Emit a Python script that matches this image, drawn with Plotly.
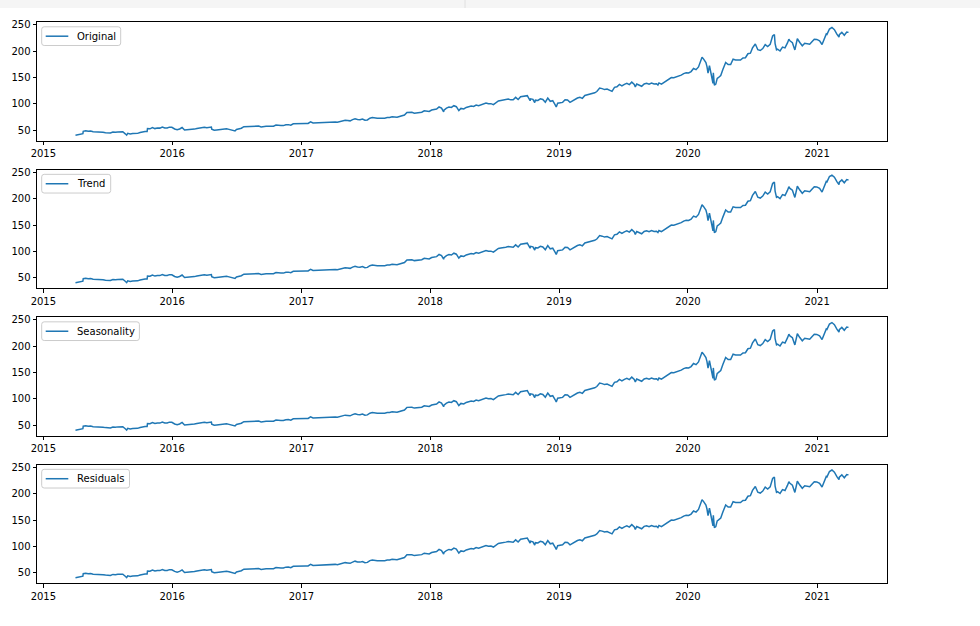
import plotly.graph_objects as go

# ---- data, weekly-ish samples ----
d2015 = ["04-02","04-10","04-17","04-23","04-24","05-01","05-08","05-15","05-22","05-29",
         "06-05","06-12","06-19","06-26","07-02","07-10","07-17","07-24","07-31","08-07",
         "08-14","08-21","08-25","08-28","09-04","09-11","09-18","09-25","10-02","10-09",
         "10-16","10-22","10-23","10-30","11-06","11-13","11-20","11-27","12-04","12-11",
         "12-18","12-24","12-31"]
v2015 = [40.3,41.7,41.6,43.3,47.9,48.7,47.8,48.3,46.9,46.9,
         46.1,45.9,46.1,45.3,44.4,44.6,46.6,45.9,46.7,46.7,
         47.0,43.1,40.5,43.9,42.6,43.5,43.5,43.9,45.6,47.1,
         47.5,47.5,52.9,52.6,54.9,53.0,54.2,53.9,56.0,54.1,
         54.1,55.7,55.5]
d2016 = ["01-08","01-15","01-22","01-29","02-05","02-12","02-19","02-26","03-04","03-11",
         "03-18","03-24","04-01","04-08","04-15","04-21","04-22","04-29","05-06","05-13",
         "05-20","05-27","06-03","06-10","06-17","06-24","06-27","07-01","07-08","07-15",
         "07-22","07-29","08-05","08-12","08-19","08-26","09-02","09-09","09-16","09-23",
         "09-30","10-07","10-14","10-21","10-28","11-04","11-11","11-18","11-25","12-02",
         "12-09","12-16","12-23","12-30"]
v2016 = [52.3,51.0,52.3,55.1,50.2,50.5,51.8,51.3,52.0,53.1,
         53.5,54.2,55.6,54.4,55.6,55.8,51.8,49.9,50.4,51.1,
         50.6,52.3,52.5,51.5,50.1,49.8,48.4,51.2,52.3,53.7,
         56.6,56.7,58.0,57.9,57.6,58.0,57.7,56.2,57.2,57.4,
         57.6,57.8,57.4,59.7,59.9,58.7,58.7,60.4,60.5,59.3,
         62.0,62.3,63.2,62.1]
d2017 = ["01-06","01-13","01-20","01-27","02-03","02-10","02-17","02-24","03-03","03-10",
         "03-17","03-24","03-31","04-07","04-13","04-21","04-28","05-05","05-12","05-19",
         "05-26","06-02","06-09","06-16","06-23","06-30","07-07","07-14","07-21","07-28",
         "08-04","08-11","08-18","08-25","09-01","09-08","09-15","09-22","09-29","10-06",
         "10-13","10-20","10-27","11-03","11-10","11-17","11-24","12-01","12-08","12-15",
         "12-22","12-29"]
v2017 = [62.8,62.7,62.7,65.8,63.7,64.0,64.6,64.6,64.3,64.9,
         64.9,65.0,65.9,65.7,65.0,66.4,68.5,69.0,68.4,67.7,
         70.0,71.8,70.3,70.0,71.2,68.9,69.5,72.8,74.0,73.0,
         72.7,72.5,72.5,72.8,74.0,73.9,75.3,74.4,74.5,76.0,
         77.5,78.8,83.8,84.1,84.0,82.4,83.3,84.3,84.2,86.9,
         85.5,85.5]
d2018 = ["01-05","01-12","01-19","01-26","02-02","02-08","02-09","02-16","02-23","03-02",
         "03-09","03-16","03-23","03-29","04-06","04-13","04-20","04-27","05-04","05-11",
         "05-18","05-25","06-01","06-08","06-15","06-22","06-29","07-06","07-13","07-20",
         "07-27","08-03","08-10","08-17","08-24","08-31","09-07","09-14","09-21","09-28",
         "10-03","10-11","10-12","10-19","10-24","10-26","11-02","11-09","11-16","11-23",
         "11-30","12-07","12-14","12-21","12-24","12-28"]
v2018 = [88.2,89.6,90.0,94.1,91.8,85.0,88.2,92.0,94.1,93.1,
         96.5,94.6,87.2,91.3,90.2,93.1,95.0,95.8,95.0,97.7,
         96.4,98.4,100.8,101.6,100.1,100.4,98.6,101.2,105.4,106.3,
         107.7,108.0,109.0,107.6,107.7,112.3,108.2,113.4,114.3,114.4,
         115.6,105.9,109.6,108.5,102.3,107.0,106.5,109.6,108.3,103.1,
         110.9,104.8,106.0,98.2,94.1,101.2]
d2019 = ["01-04","01-11","01-18","01-25","02-01","02-08","02-15","02-22","03-01","03-08",
         "03-15","03-22","03-29","04-05","04-12","04-18","04-26","05-03","05-10","05-17",
         "05-24","05-31","06-07","06-14","06-21","06-28","07-05","07-12","07-19","07-26",
         "08-02","08-05","08-09","08-16","08-23","08-30","09-06","09-13","09-20","09-27",
         "10-04","10-08","10-11","10-18","10-25","11-01","11-08","11-15","11-22","11-29",
         "12-06","12-13","12-20","12-27"]
v2019 = [101.9,102.8,107.7,107.2,102.8,105.7,108.2,111.0,112.5,110.5,
         115.9,117.1,117.9,119.9,121.0,123.4,129.9,128.9,127.1,128.1,
         126.2,123.7,131.4,132.5,137.0,134.0,137.1,138.9,136.6,141.3,
         136.9,132.2,137.7,136.1,133.4,137.9,139.1,137.3,139.4,137.7,
         138.1,135.7,139.7,137.4,140.7,143.7,146.0,150.0,149.6,151.4,
         151.8,154.5,157.4,159.0]
d2020 = ["01-03","01-10","01-17","01-24","01-31","02-07","02-10","02-14","02-21","02-24",
         "02-27","03-02","03-06","03-09","03-12","03-13","03-16","03-20","03-24","03-27",
         "04-03","04-09","04-17","04-24","05-01","05-08","05-15","05-22","05-29","06-05",
         "06-12","06-19","06-26","07-02","07-10","07-17","07-24","07-31","08-07","08-14",
         "08-21","08-28","09-02","09-04","09-08","09-11","09-18","09-25","10-02","10-09",
         "10-13","10-16","10-23","10-30","11-06","11-13","11-20","11-27","12-04","12-11",
         "12-18","12-24","12-31"]
v2020 = [158.6,161.3,167.1,165.0,170.2,183.9,188.7,185.4,178.6,170.9,
         158.2,172.8,161.6,150.6,139.1,158.8,135.4,137.4,148.3,149.7,
         153.8,165.1,178.6,174.6,174.6,184.7,183.2,183.5,183.3,187.2,
         187.7,195.2,196.3,206.3,213.7,202.9,201.3,205.0,212.5,208.9,
         213.0,228.9,231.7,214.3,202.7,204.0,200.4,207.8,206.2,215.8,
         222.9,219.7,216.2,202.5,223.7,216.5,210.4,215.2,214.4,213.3,
         218.6,222.8,222.4]
d2021 = ["01-08","01-15","01-22","01-27","01-29","02-05","02-12","02-19","02-26","03-04",
         "03-05","03-12","03-19","03-26","03-31"]
v2021 = [219.6,212.7,225.9,232.9,232.0,242.2,245.0,241.0,232.4,226.7,
         231.6,235.8,230.4,236.5,235.8]

names = ["Original", "Trend", "Seasonality", "Residuals"]
y_ticks = [50, 100, 150, 200, 250]

dates, values = [], []
for yr, ds, vs in [(2015, d2015, v2015), (2016, d2016, v2016), (2017, d2017, v2017),
                   (2018, d2018, v2018), (2019, d2019, v2019), (2020, d2020, v2020),
                   (2021, d2021, v2021)]:
    assert len(ds) == len(vs), yr
    dates += [f"{yr}-{d}" for d in ds]
    values += vs

LINE = "#1f77b4"
FONT = dict(family="DejaVu Sans", size=10, color="black")

# geometry (pixels) -> paper helpers
L, R, T, B = 37, 93, 22, 43
PW, PH = 980 - L - R, 626 - T - B
def px(x):
    return (x - L) / PW
def dy(d):
    return d / PH

domains = [[0.7887, 1.0], [0.5258, 0.7370], [0.2629, 0.4741], [0.0, 0.2112]]
legend_right = [120.7, 110.7, 139.4, 129.5]

fig = go.Figure()
layout = dict(
    width=980, height=626,
    margin=dict(l=L, r=R, t=T, b=B),
    paper_bgcolor="white", plot_bgcolor="white",
    font=FONT, showlegend=False,
)
shapes, annots = [], []

def rounded(x0, x1, y0, y1, r=2.5):
    rx, ry = r / PW, r / PH
    return (f"M{x0+rx},{y1} L{x1-rx},{y1} Q{x1},{y1} {x1},{y1-ry} "
            f"L{x1},{y0+ry} Q{x1},{y0} {x1-rx},{y0} L{x0+rx},{y0} "
            f"Q{x0},{y0} {x0},{y0+ry} L{x0},{y1-ry} Q{x0},{y1} {x0+rx},{y1} Z")

for i, name in enumerate(names):
    ax = "" if i == 0 else str(i + 1)
    fig.add_trace(go.Scatter(
        x=dates, y=values, mode="lines", name=name,
        line=dict(color=LINE, width=1.5),
        xaxis="x" + ax, yaxis="y" + ax,
    ))
    common = dict(showline=True, linecolor="black", linewidth=1, mirror=True,
                  showgrid=False, zeroline=False, ticks="outside", ticklen=3.5,
                  tickwidth=1, tickcolor="black", tickfont=FONT)
    layout["xaxis" + ax] = dict(
        common, type="date", domain=[0, 1], anchor="y" + ax,
        range=["2014-12-14", "2021-07-18"],
        tick0="2015-01-01", dtick="M12", tickformat="%Y",
    )
    layout["yaxis" + ax] = dict(
        common, domain=domains[i], anchor="x" + ax,
        range=[30.3, 255.5], tickvals=y_ticks,
    )
    top = domains[i][1]
    # legend box (matplotlib style)
    shapes.append(dict(type="path", xref="paper", yref="paper",
                       path=rounded(px(41.7), px(legend_right[i]), top - dy(23.5), top - dy(4.8)),
                       fillcolor="rgba(255,255,255,0.8)",
                       line=dict(color="#cccccc", width=1)))
    yc = top - dy(14.2)
    shapes.append(dict(type="line", xref="paper", yref="paper",
                       x0=px(45.7), x1=px(68.3), y0=yc, y1=yc,
                       line=dict(color=LINE, width=1.5)))
    annots.append(dict(text=name, xref="paper", yref="paper", x=px(75), y=yc,
                       xanchor="left", yanchor="middle", showarrow=False, font=FONT))

# top UI strip from the screenshot
shapes.append(dict(type="rect", xref="paper", yref="paper",
                   x0=px(0), x1=px(980), y0=1 + dy(T - 8), y1=1 + dy(T + 2),
                   fillcolor="#f5f5f5", line=dict(width=0), layer="below"))
shapes.append(dict(type="line", xref="paper", yref="paper",
                   x0=px(465), x1=px(465), y0=1 + dy(T - 8), y1=1 + dy(T + 2),
                   line=dict(color="#e0e0e0", width=1)))

layout["shapes"] = shapes
layout["annotations"] = annots
fig.update_layout(**layout)

fig.write_html("out.html")
